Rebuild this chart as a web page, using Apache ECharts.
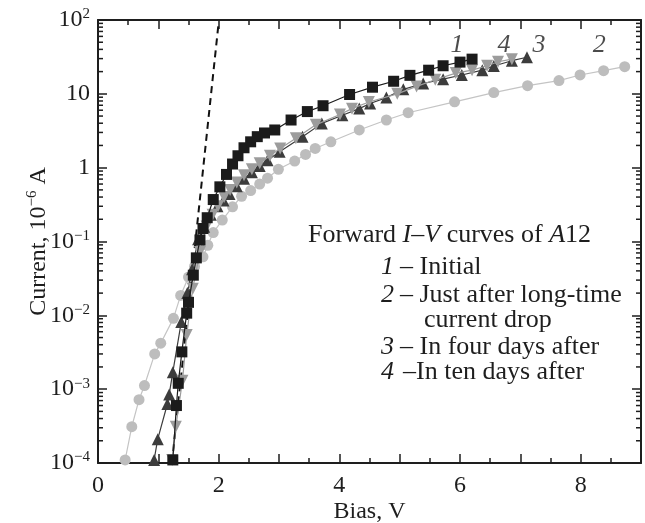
<!DOCTYPE html>
<html><head><meta charset="utf-8">
<script src="https://cdn.jsdelivr.net/npm/echarts@6/dist/echarts.min.js"></script>
<style>html,body{margin:0;padding:0;background:#fff}#c{width:645px;height:523px}</style>
</head><body><div id="c"></div>
<script>
// Curve 1 – Initial
const bias1 = [1.24,1.30,1.33,1.39,1.47,1.50,1.58,1.63,1.69,1.74,1.81,1.91,2.02,2.13,2.23,2.32,2.42,2.53,2.64,2.76,2.93,3.20,3.47,3.73,4.17,4.55,4.90,5.17,5.48,5.72,6.00,6.20];
const current1 = [1.1e-4,6.0e-4,1.2e-3,3.2e-3,0.0107,0.015,0.035,0.060,0.105,0.15,0.21,0.37,0.55,0.81,1.12,1.45,1.86,2.24,2.63,2.95,3.24,4.42,5.75,6.9,9.8,12.3,14.8,17.8,20.9,24.0,26.9,29.5];
// Curve 2 – Just after long-time current drop
const bias2 = [0.45,0.56,0.68,0.77,0.94,1.04,1.25,1.37,1.50,1.60,1.74,1.82,1.91,2.06,2.23,2.38,2.53,2.68,2.81,2.99,3.26,3.44,3.60,3.86,4.33,4.78,5.14,5.91,6.56,7.12,7.64,7.99,8.38,8.73];
const current2 = [1.1e-4,3.1e-4,7.2e-4,1.12e-3,3.0e-3,4.2e-3,9.1e-3,0.0186,0.033,0.046,0.062,0.089,0.132,0.195,0.295,0.41,0.49,0.60,0.72,0.95,1.23,1.51,1.82,2.24,3.24,4.42,5.55,7.8,10.4,12.9,15.1,18.0,20.6,23.3];
// Curve 3 – In four days after
const bias3 = [0.93,0.99,1.15,1.18,1.24,1.38,1.48,1.56,1.66,1.76,1.87,1.98,2.08,2.18,2.30,2.42,2.55,2.68,2.81,3.01,3.39,3.71,4.05,4.33,4.51,4.78,5.06,5.39,5.72,6.03,6.37,6.56,6.86,7.11];
const current3 = [1.1e-4,2.1e-4,6.3e-4,8.5e-4,1.7e-3,8.1e-3,0.020,0.042,0.107,0.158,0.23,0.30,0.36,0.44,0.56,0.71,0.87,1.05,1.26,1.64,2.63,3.98,5.13,6.31,7.41,8.9,11.5,13.8,15.8,18.0,20.9,23.8,28.1,31.3];
// Curve 4 – In ten days after
const bias4 = [1.23,1.29,1.40,1.47,1.57,1.69,1.80,1.90,1.99,2.09,2.19,2.30,2.42,2.55,2.68,2.85,3.02,3.28,3.61,4.01,4.21,4.49,4.96,5.28,5.59,5.93,6.20,6.45,6.63,6.86];
const current4 = [1.1e-4,3.1e-4,1.3e-3,5.4e-3,0.023,0.072,0.16,0.23,0.30,0.40,0.50,0.63,0.79,0.95,1.15,1.45,1.82,2.5,3.8,5.25,6.3,7.76,10.0,12.6,15.5,19.1,20.9,24.0,27.2,29.5];
// Dashed exponential fit
const fitBias = [1.225, 1.995];
const fitCurrent = [1e-4, 85];
// Curve number labels
const curveLabels = ['1','4','3','2'];
const labelBias = [5.95,6.73,7.31,8.31];
const labelCurrent = [46,46,46,46];
// Axis ticks
const yTickExponents = [-4,-3,-2,-1,0,1,2];
const xTickLabels = [0,2,4,6,8];

const zip = (a,b) => a.map((v,i)=>[v,b[i]]);
const FONT = 'Liberation Serif';
const INK = '#1e1e1e';

const minorVals = [];
for (let k=-4;k<2;k++) for (let m=2;m<10;m++) minorVals.push(m*Math.pow(10,k));

const sup = (s)=>s.replace('-','−');
function yFmt(v){
  const e = Math.round(Math.log10(v));
  if (!yTickExponents.includes(e)) return '';
  if (e===0) return '{b|1}';
  if (e===1) return '{b|10}';
  return '{b|10}{s|'+sup(String(e))+'}';
}

const axisCommon = {
  axisLine:{show:true,onZero:false,lineStyle:{color:INK,width:2}},
  axisTick:{show:true,inside:true,length:9,lineStyle:{color:INK,width:1.5}},
  splitLine:{show:false}
};

const chart = echarts.init(document.getElementById('c'), null, {renderer:'canvas'});
const option = {
  backgroundColor:'#fff',
  animation:false,
  grid:{left:98,right:4,top:20,bottom:60,containLabel:false,outerBoundsMode:'none'},
  xAxis:[
    Object.assign({type:'value',min:0,max:9,interval:1,position:'bottom',
      name:'Bias, V',nameLocation:'middle',nameGap:37,nameMoveOverlap:false,
      nameTextStyle:{fontFamily:FONT,fontSize:24,color:INK},
      minorTick:{show:true,splitNumber:2,length:5,lineStyle:{color:INK,width:1.5}},
      axisLabel:{fontFamily:FONT,fontSize:24,color:INK,margin:11,
        formatter:(v)=>xTickLabels.includes(v)?String(v):''}}, axisCommon),
    Object.assign({type:'value',min:0,max:9,interval:1,position:'top',
      minorTick:{show:true,splitNumber:2,length:5,lineStyle:{color:INK,width:1.5}},
      axisLabel:{show:false}}, axisCommon)
  ],
  yAxis:[
    Object.assign({type:'log',logBase:10,min:1e-4,max:100,position:'left',
      name:'{b|Current, 10}{s|−6}{b| A}',nameLocation:'middle',nameGap:45,nameMoveOverlap:false,
      nameTextStyle:{fontFamily:FONT,color:INK,
        rich:{b:{fontFamily:FONT,fontSize:24,color:INK,lineHeight:28},
              s:{fontFamily:FONT,fontSize:15,color:INK,verticalAlign:'top',lineHeight:28,padding:[0,0,6,0]}}},
      axisLabel:{fontFamily:FONT,color:INK,margin:8,formatter:yFmt,
        rich:{b:{fontFamily:FONT,fontSize:24,color:INK,lineHeight:26},
              s:{fontFamily:FONT,fontSize:15,color:INK,verticalAlign:'top',lineHeight:26,padding:[0,0,8,0]}}}}, axisCommon),
    Object.assign({type:'log',logBase:10,min:1e-4,max:100,position:'right',
      axisLabel:{show:false}}, axisCommon)
  ],
  graphic:[
    {type:'text',left:308,top:222,style:{text:'Forward {i|I}–{i|V} curves of {i|A}12',
      fontFamily:FONT,fontSize:26,fill:INK,rich:{i:{fontStyle:'italic',fontFamily:FONT,fontSize:26,fill:INK}}}},
    {type:'text',left:381,top:254,style:{text:'1',fontFamily:FONT,fontStyle:'italic',fontSize:26,fill:INK}},
    {type:'text',left:400,top:254,style:{text:'– Initial',fontFamily:FONT,fontSize:26,fill:INK}},
    {type:'text',left:381,top:282,style:{text:'2',fontFamily:FONT,fontStyle:'italic',fontSize:26,fill:INK}},
    {type:'text',left:400,top:282,style:{text:'– Just after long-time',fontFamily:FONT,fontSize:26,fill:INK}},
    {type:'text',left:424,top:307,style:{text:'current drop',fontFamily:FONT,fontSize:26,fill:INK}},
    {type:'text',left:381,top:334,style:{text:'3',fontFamily:FONT,fontStyle:'italic',fontSize:26,fill:INK}},
    {type:'text',left:400,top:334,style:{text:'– In four days after',fontFamily:FONT,fontSize:26,fill:INK}},
    {type:'text',left:381,top:359,style:{text:'4',fontFamily:FONT,fontStyle:'italic',fontSize:26,fill:INK}},
    {type:'text',left:403,top:359,style:{text:'–In ten days after',fontFamily:FONT,fontSize:26,fill:INK}}
  ],
  series:[
    {type:'custom',name:'minorTicks',silent:true,clip:false,z:5,
      data:minorVals.map(v=>[0,v]),
      renderItem:(params,api)=>{
        const v = api.value(1);
        const pl = api.coord([0,v]);
        const pr = api.coord([9,v]);
        return {type:'group',children:[
          {type:'line',shape:{x1:pl[0],y1:pl[1],x2:pl[0]+5,y2:pl[1]},style:{stroke:INK,lineWidth:1.5}},
          {type:'line',shape:{x1:pr[0],y1:pr[1],x2:pr[0]-5,y2:pr[1]},style:{stroke:INK,lineWidth:1.5}}
        ]};
      }},
    {type:'line',name:'fit',data:zip(fitBias,fitCurrent),symbol:'none',z:3,
      lineStyle:{color:'#111',width:2,type:[7,5]}},
    {type:'line',name:'2',data:zip(bias2,current2),symbol:'circle',symbolSize:11,z:4,
      itemStyle:{color:'#bdbdbd'},lineStyle:{color:'#c4c4c4',width:1.2}},
    {type:'line',name:'3',data:zip(bias3,current3),symbol:'triangle',symbolSize:12,z:5,
      itemStyle:{color:'#3c3c3c'},lineStyle:{color:'#3c3c3c',width:1.2}},
    {type:'line',name:'4',data:zip(bias4,current4),symbol:'triangle',symbolRotate:180,symbolSize:12,z:6,
      itemStyle:{color:'#9c9c9c'},lineStyle:{color:'#9c9c9c',width:1.2}},
    {type:'line',name:'1',data:zip(bias1,current1),symbol:'rect',symbolSize:11,z:7,
      itemStyle:{color:'#1b1b1b'},lineStyle:{color:'#1b1b1b',width:1.2}},
    {type:'scatter',name:'labels',symbolSize:0,silent:true,z:8,
      data:curveLabels.map((t,i)=>({value:[labelBias[i],labelCurrent[i]],name:t})),
      label:{show:true,position:'inside',formatter:(p)=>p.name,
        fontFamily:FONT,fontStyle:'italic',fontSize:26,color:INK}}
  ]
};
chart.setOption(option);
</script></body></html>
